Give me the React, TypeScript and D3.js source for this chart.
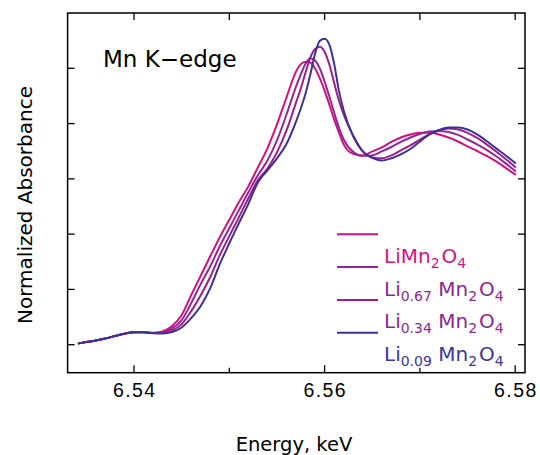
import React from 'react';
import * as d3 from 'd3';

const energies = [6.5342, 6.535, 6.536, 6.537, 6.538, 6.539, 6.54, 6.541, 6.542, 6.543, 6.544, 6.545, 6.546, 6.547, 6.548, 6.549, 6.55, 6.551, 6.552, 6.553, 6.554, 6.555, 6.556, 6.557, 6.5575, 6.558, 6.5585, 6.559, 6.5595, 6.56, 6.5605, 6.561, 6.5615, 6.562, 6.563, 6.564, 6.565, 6.566, 6.567, 6.568, 6.569, 6.57, 6.571, 6.572, 6.573, 6.574, 6.575, 6.576, 6.577, 6.578, 6.579, 6.58];

const absLiMn2O4 = [0.006, 0.012, 0.019, 0.028, 0.039, 0.05, 0.056, 0.056, 0.054, 0.06, 0.084, 0.134, 0.224, 0.312, 0.4, 0.486, 0.565, 0.644, 0.716, 0.802, 0.888, 0.996, 1.118, 1.235, 1.269, 1.28, 1.276, 1.249, 1.204, 1.149, 1.086, 1.019, 0.96, 0.906, 0.863, 0.856, 0.874, 0.892, 0.917, 0.937, 0.951, 0.958, 0.959, 0.951, 0.937, 0.919, 0.897, 0.876, 0.854, 0.829, 0.8, 0.77];

const absLi067 = [0.006, 0.012, 0.019, 0.028, 0.039, 0.05, 0.056, 0.056, 0.053, 0.056, 0.073, 0.111, 0.188, 0.274, 0.355, 0.445, 0.527, 0.608, 0.689, 0.766, 0.833, 0.924, 1.041, 1.167, 1.222, 1.271, 1.296, 1.285, 1.249, 1.19, 1.122, 1.05, 0.982, 0.928, 0.872, 0.854, 0.856, 0.874, 0.894, 0.917, 0.937, 0.953, 0.964, 0.967, 0.962, 0.949, 0.928, 0.906, 0.881, 0.852, 0.82, 0.786];

const absLi034 = [0.006, 0.012, 0.019, 0.028, 0.039, 0.05, 0.056, 0.056, 0.053, 0.054, 0.064, 0.093, 0.152, 0.224, 0.306, 0.405, 0.491, 0.576, 0.662, 0.743, 0.797, 0.87, 0.969, 1.095, 1.158, 1.231, 1.298, 1.337, 1.348, 1.325, 1.267, 1.185, 1.104, 1.041, 0.946, 0.874, 0.847, 0.843, 0.856, 0.879, 0.901, 0.928, 0.951, 0.969, 0.978, 0.973, 0.958, 0.935, 0.906, 0.874, 0.84, 0.804];

const absLi009 = [0.006, 0.012, 0.019, 0.028, 0.039, 0.05, 0.056, 0.056, 0.052, 0.051, 0.057, 0.078, 0.12, 0.175, 0.256, 0.364, 0.459, 0.549, 0.637, 0.734, 0.788, 0.843, 0.908, 1.009, 1.068, 1.136, 1.222, 1.316, 1.375, 1.384, 1.357, 1.271, 1.149, 1.059, 0.942, 0.874, 0.845, 0.833, 0.843, 0.861, 0.885, 0.919, 0.951, 0.971, 0.982, 0.982, 0.973, 0.951, 0.921, 0.888, 0.856, 0.822];

const seriesColors = ['#d1117f', '#8e2a96', '#9c1f8c', '#3e3290'];
const legendTextColors = ['#d0137f', '#8b2a8e', '#8b2a8e', '#3f3592'];

// legend labels: [main, subscript] pairs
const legendLabels = [
  [['Li', ''], ['Mn', '2'], ['O', '4']],
  [['Li', '0.67'], [' Mn', '2'], ['O', '4']],
  [['Li', '0.34'], [' Mn', '2'], ['O', '4']],
  [['Li', '0.09'], [' Mn', '2'], ['O', '4']],
];

const majorXTicks = [6.54, 6.56, 6.58];
const minorXTicks = [6.55, 6.57];
const topXTicks = [6.54, 6.55, 6.56, 6.57, 6.58];
const yTicks = [0, 0.25, 0.5, 0.75, 1.0, 1.25];

const titleText = 'Mn K\u2212edge';
const xLabel = 'Energy, keV';
const yLabel = 'Normalized Absorbance';

export default function App() {
  const W = 540, H = 455;
  const left = 67.6, right = 525, top = 13, bottom = 372.7;
  const x = d3.scaleLinear().domain([6.53303, 6.58103]).range([left, right]);
  const y = d3.scaleLinear().domain([0, 1.25]).range([344.7, 68.3]);
  const series = [absLiMn2O4, absLi067, absLi034, absLi009];
  const line = d3
    .line<number>()
    .x((_, i) => x(energies[i]))
    .y((d) => y(d))
    .curve(d3.curveMonotoneX);

  const sans = 'DejaVu Sans, Verdana, sans-serif';
  const legendY0 = 234.3;
  const legendStep = 32.8;

  return (
    <svg
      width={W}
      height={H}
      style={{ position: 'absolute', left: 0, top: 0, background: '#fff' }}
    >
      <rect x={0} y={0} width={W} height={H} fill="#fff" />
      {series.map((s, k) => (
        <path
          key={k}
          d={line(s) || ''}
          fill="none"
          stroke={seriesColors[k]}
          strokeWidth={2}
          strokeLinejoin="round"
          strokeLinecap="round"
        />
      ))}
      {/* frame */}
      <rect
        x={left}
        y={top}
        width={right - left}
        height={bottom - top}
        fill="none"
        stroke="#000"
        strokeWidth={1.5}
      />
      {majorXTicks.map((t) => (
        <line key={'M' + t} x1={x(t)} x2={x(t)} y1={bottom} y2={bottom - 7.5} stroke="#000" strokeWidth={1.3} />
      ))}
      {minorXTicks.map((t) => (
        <line key={'m' + t} x1={x(t)} x2={x(t)} y1={bottom} y2={bottom - 5} stroke="#000" strokeWidth={1.3} />
      ))}
      {topXTicks.map((t) => (
        <line key={'t' + t} x1={x(t)} x2={x(t)} y1={top} y2={top + 7} stroke="#000" strokeWidth={1.3} />
      ))}
      {yTicks.map((t) => (
        <g key={'y' + t}>
          <line x1={left} x2={left + 7} y1={y(t)} y2={y(t)} stroke="#000" strokeWidth={1.3} />
          <line x1={right} x2={right - 7} y1={y(t)} y2={y(t)} stroke="#000" strokeWidth={1.3} />
        </g>
      ))}
      {majorXTicks.map((t) => (
        <text
          key={'l' + t}
          x={x(t) + 0.7}
          y={397}
          textAnchor="middle"
          fontFamily="Liberation Sans, Arial, sans-serif"
          fontSize={19.5}
          letterSpacing={1.4}
          fill="#000"
        >
          {t.toFixed(2)}
        </text>
      ))}
      <text x={103} y={66.7} fontFamily={sans} fontSize={23} fill="#000">
        {titleText}
      </text>
      <text x={294} y={451} textAnchor="middle" fontFamily={sans} fontSize={19.5} fill="#000">
        {xLabel}
      </text>
      <text
        transform={`translate(31.5,205) rotate(-90)`}
        textAnchor="middle"
        fontFamily={sans}
        fontSize={20}
        fill="#000"
      >
        {yLabel}
      </text>
      {legendLabels.map((parts, k) => {
        const ly = legendY0 + k * legendStep;
        const spans: React.ReactNode[] = [];
        let shifted = false;
        parts.forEach((p, j) => {
          spans.push(
            <tspan key={'a' + j} dx={j === 2 ? 2 : 0} dy={shifted ? -5 : 0}>
              {p[0]}
            </tspan>
          );
          shifted = false;
          if (p[1]) {
            spans.push(
              <tspan key={'b' + j} fontSize={14} dy={5}>
                {p[1]}
              </tspan>
            );
            shifted = true;
          }
        });
        return (
          <g key={'lg' + k}>
            <line x1={337} x2={378} y1={ly} y2={ly} stroke={seriesColors[k]} strokeWidth={2} />
            <text x={384} y={ly + 28.5} fontFamily={sans} fontSize={20} fill={legendTextColors[k]}>
              {spans}
            </text>
          </g>
        );
      })}
    </svg>
  );
}
